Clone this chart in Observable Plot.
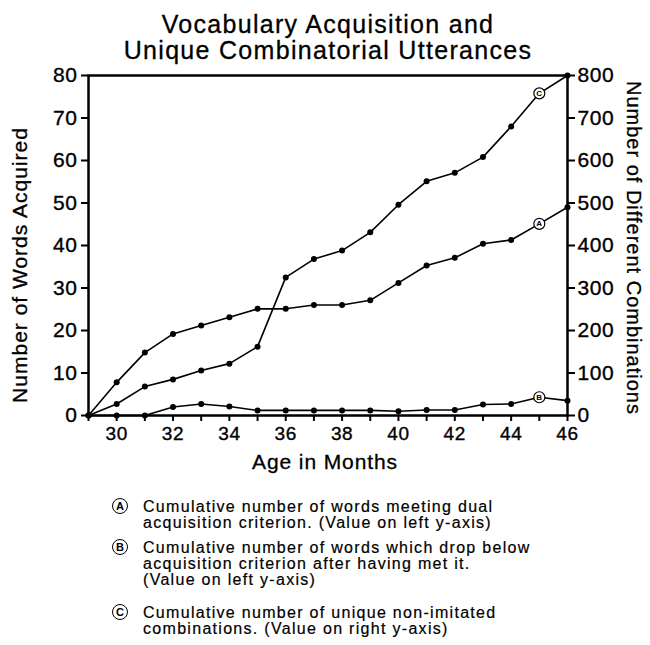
<!DOCTYPE html>
<html><head><meta charset="utf-8">
<script src="https://cdn.jsdelivr.net/npm/d3@7"></script>
<script src="https://cdn.jsdelivr.net/npm/@observablehq/plot@0.6"></script>
<style>
body{margin:0;background:#fff;font-family:"Liberation Sans",Arial,sans-serif;color:#000}
#wrap{position:relative;width:650px;height:645px;overflow:hidden;background:#fff}
#wrap svg{position:absolute;left:0;top:0}
#wrap svg g[aria-label="x-axis tick label"] text,
#wrap svg g[aria-label="y-axis tick label"] text{stroke:#000;stroke-width:0.35px}
.t{position:absolute;white-space:nowrap;-webkit-text-stroke:0.3px #000}
.title{left:0;top:11px;width:650px;padding-left:6px;box-sizing:border-box;text-align:center;font-size:25px;line-height:26px;letter-spacing:1.3px}
.xlab{left:0;top:451px;width:650px;text-align:center;font-size:21px;line-height:21px;letter-spacing:0.9px}
.ylab{width:400px;height:24px;line-height:24px;text-align:center;font-size:21px;letter-spacing:1px}
.leg{font-size:16px;line-height:15px;letter-spacing:1.3px;left:143px;-webkit-text-stroke:0.2px #000}
.circ{position:absolute;width:14px;height:14px;border:1.4px solid #000;border-radius:50%;font-size:11px;line-height:14px;text-align:center;font-weight:bold;left:112px}
</style></head><body><div id="wrap"></div>
<script>
// ---- data ----
const months = [29,30,31,32,33,34,35,36,37,38,39,40,41,42,43,44,45,46];
// (A) cumulative words meeting dual acquisition criterion (left axis)
const wordsMeeting = [0,7.8,14.8,19.2,21.2,23.1,25.1,25.1,26.0,26.0,27.1,31.2,35.3,37.1,40.4,41.3,45.1,49];
// (B) cumulative words dropping below criterion after having met it (left axis)
const wordsDropped = [0,0,0,2.0,2.7,2.1,1.2,1.2,1.2,1.2,1.2,1.0,1.3,1.3,2.6,2.7,4.3,3.5];
// (C) cumulative unique non-imitated combinations (right axis)
const combinations = [0,27,68,85,106,122,162,325,368,388,431,496,551,571,608,680,758,800];
const leftTicks = [0,10,20,30,40,50,60,70,80];
const rightTicks = [0,100,200,300,400,500,600,700,800];
const monthLabels = [30,32,34,36,38,40,42,44,46];
const markerMonth = 45;
const seriesKeys = ["A","B","C"];

const title = ["Vocabulary Acquisition and","Unique Combinatorial Utterances"];
const xLabel = "Age in Months";
const yLeftLabel = "Number of Words Acquired";
const yRightLabel = "Number of Different Combinations";
const legendItems = [
  {key:"A", lines:["Cumulative number of words meeting dual","acquisition criterion. (Value on left y-axis)"]},
  {key:"B", lines:["Cumulative number of words which drop below","acquisition criterion after having met it.","(Value on left y-axis)"]},
  {key:"C", lines:["Cumulative number of unique non-imitated","combinations. (Value on right y-axis)"]}
];

// ---- build ----
const ratio = 10; // right-axis units per left-axis unit
const rows = months.map((m,i)=>({month:m, A:wordsMeeting[i], B:wordsDropped[i], C:combinations[i]/ratio}));
const mi = months.indexOf(markerMonth);
const markers = seriesKeys.map(k=>({month:markerMonth, y:rows[mi][k], label:k}));

const series = seriesKeys.flatMap(k=>[
  Plot.line(rows,{x:"month",y:k,stroke:"#000",strokeWidth:1.6}),
  Plot.dot(rows,{x:"month",y:k,r:3,fill:"#000",stroke:"none"})
]);

const plot = Plot.plot({
  width:650, height:480,
  marginTop:75, marginLeft:88, marginRight:83, marginBottom:65,
  x:{domain:[29,46]},
  y:{domain:[0,80]},
  style:{fontFamily:"Liberation Sans, Arial, sans-serif", color:"#000", background:"transparent", letterSpacing:"0.6px"},
  marks:[
    Plot.axisX({ticks:months, tickSize:6, tickPadding:5, fontSize:19, strokeWidth:2,
      tickFormat:d=>monthLabels.includes(d)?String(d):"", label:null}),
    Plot.axisY({anchor:"left", ticks:leftTicks, tickSize:7, tickPadding:4, fontSize:21, strokeWidth:2, label:null}),
    Plot.axisY({anchor:"right", ticks:rightTicks.map(v=>v/ratio), tickFormat:v=>String(Math.round(v*ratio)),
      tickSize:7, tickPadding:3, fontSize:21, strokeWidth:2, label:null}),
    Plot.frame({stroke:"#000", strokeWidth:2.5}),
    ...series,
    Plot.dot(markers,{x:"month",y:"y",r:5.5,fill:"#fff",stroke:"#000",strokeWidth:1.2}),
    Plot.text(markers,{x:"month",y:"y",text:"label",fontSize:8,fontWeight:"bold",fill:"#000"})
  ]
});

const wrap = document.getElementById("wrap");
wrap.appendChild(plot);

function addDiv(cls, html, css){
  const d = document.createElement("div");
  d.className = "t " + cls;
  d.innerHTML = html;
  if (css) Object.assign(d.style, css);
  wrap.appendChild(d);
  return d;
}
addDiv("title", title.join("<br>"));
addDiv("xlab", xLabel);
addDiv("ylab", yLeftLabel, {left:(20-200)+"px", top:(265-12)+"px", transform:"rotate(-90deg)"});
addDiv("ylab", yRightLabel, {left:(634-200)+"px", top:(248-12)+"px", transform:"rotate(90deg)", fontSize:"20px"});

// legend
const baselines = [[512,528],[553,569,585],[618,634]];
legendItems.forEach((it,gi)=>{
  it.lines.forEach((ln,li)=>{
    addDiv("leg", ln, {top:(baselines[gi][li]-13)+"px"});
  });
  const c = document.createElement("div");
  c.className = "circ";
  c.textContent = it.key;
  c.style.top = (baselines[gi][0]-5.5-8.4)+"px";
  wrap.appendChild(c);
});
</script>
</body></html>
